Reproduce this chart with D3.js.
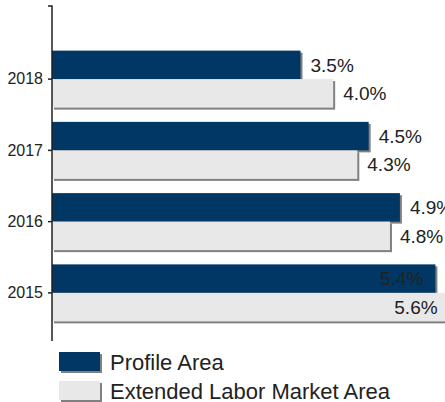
<!DOCTYPE html>
<html>
<head>
<meta charset="utf-8">
<script src="https://cdn.jsdelivr.net/npm/d3@7"></script>
<style>
    body { margin: 0; background: #fff; }
    svg { display: block; font-family: Arial, "Liberation Sans", sans-serif; }
</style>
</head>
<body>
<svg id="drawing_region"></svg>
<script>
const years = ["2018", "2017", "2016", "2015"];
const series = ["Profile Area", "Extended Labor Market Area"];
const profile_values = [3.5, 4.46, 4.9, 5.4];
const extended_values = [3.96, 4.3, 4.76, 5.6];
const colors = ["#003764", "#e8e8e8"];

const data = years.map((y, i) => ({
    year: y,
    values: [profile_values[i], extended_values[i]]
}));

const config = {
    width: 445,
    height: 402,
    axis_x: 52,
    axis_top: 6,
    axis_bottom: 341
};

const svg = d3.select("#drawing_region")
    .attr("width", config.width)
    .attr("height", config.height);

const xscale = d3.scaleLinear()
    .domain([0, 6])
    .range([config.axis_x, config.axis_x + 426]);

const yscale = d3.scaleBand()
    .domain(years)
    .range([43.5, 328.5])
    .paddingInner(0.2)
    .paddingOuter(0.1);

const inner = d3.scaleBand()
    .domain([0, 1])
    .range([0, yscale.bandwidth()]);

const fmt = v => d3.format(".1f")(v) + "%";

// bars
const groups = svg.selectAll(".group")
    .data(data)
    .enter()
    .append("g")
    .attr("transform", d => `translate(0, ${yscale(d.year)})`);

[0, 1].forEach(s => {
    groups.append("rect")
        .attr("x", xscale(0) + 2)
        .attr("y", inner(s) + 2)
        .attr("width", d => xscale(d.values[s]) - xscale(0))
        .attr("height", inner.bandwidth())
        .attr("fill", "#808080");
    groups.append("rect")
        .attr("x", xscale(0))
        .attr("y", inner(s))
        .attr("width", d => xscale(d.values[s]) - xscale(0))
        .attr("height", inner.bandwidth())
        .attr("fill", colors[s]);
});

// value labels
[0, 1].forEach(s => {
    groups.append("text")
        .attr("x", d => d.values[s] > 5 ? xscale(d.values[s]) - 12 : xscale(d.values[s]) + 10)
        .attr("y", inner(s) + inner.bandwidth() / 2)
        .attr("dy", "0.35em")
        .attr("text-anchor", d => d.values[s] > 5 ? "end" : "start")
        .attr("font-size", 19)
        .attr("fill", "#222")
        .text(d => fmt(d.values[s]));
});

// y axis
const yaxis = d3.axisLeft(yscale)
    .tickSize(4)
    .tickSizeOuter(4)
    .tickPadding(5);

const yaxis_group = svg.append("g")
    .attr("transform", `translate(${config.axis_x}, 0)`)
    .call(yaxis);

yaxis_group.select(".domain")
    .attr("d", `M-4,${config.axis_top}H0V${config.axis_bottom}`)
    .attr("stroke", "#222")
    .attr("stroke-width", 1.5);
yaxis_group.selectAll(".tick line").attr("stroke", "#222").attr("stroke-width", 1.5);
yaxis_group.selectAll(".tick text")
    .attr("font-size", 16)
    .attr("font-family", "Arial, 'Liberation Sans', sans-serif")
    .attr("fill", "#222");

// legend
const legend = svg.append("g")
    .attr("transform", "translate(59, 352)");

const items = legend.selectAll(".item")
    .data(series)
    .enter()
    .append("g")
    .attr("transform", (d, i) => `translate(0, ${i * 29})`);

items.append("rect")
    .attr("x", 2).attr("y", 2)
    .attr("width", 41).attr("height", 19)
    .attr("fill", "#808080");
items.append("rect")
    .attr("width", 41).attr("height", 19)
    .attr("fill", (d, i) => colors[i]);
items.append("text")
    .attr("x", 51)
    .attr("y", 10)
    .attr("dy", "0.35em")
    .attr("font-size", 22)
    .attr("fill", "#222")
    .text(d => d);
</script>
</body>
</html>
